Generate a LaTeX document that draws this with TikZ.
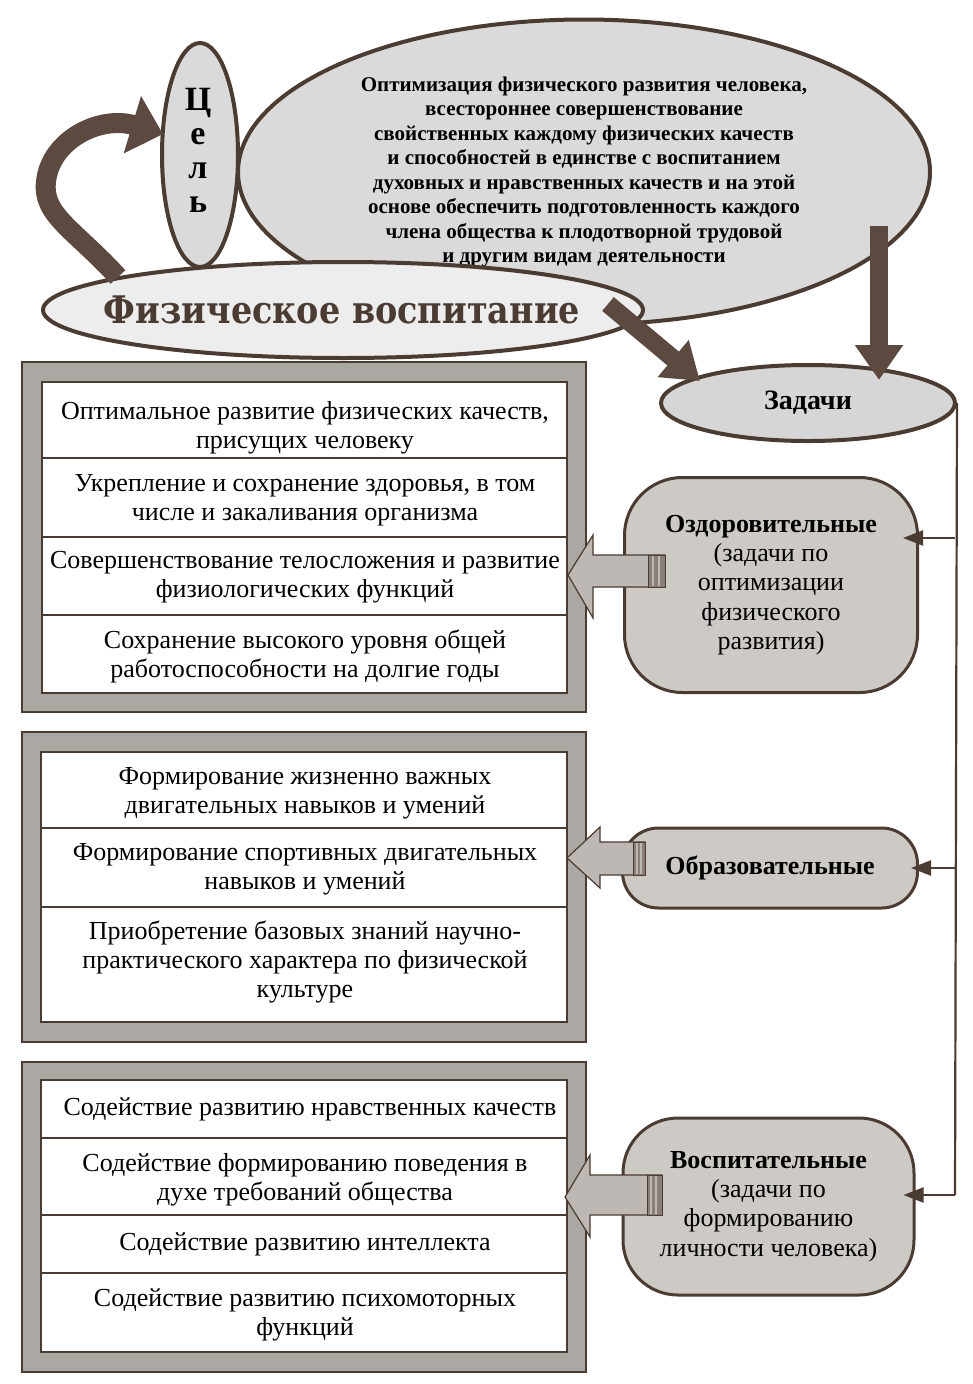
\documentclass[tikz,border=0pt]{standalone}
\usepackage{fontspec}
\setmainfont{Liberation Serif}
\newfontfamily\fvFizFamily{DejaVu Serif}[FakeStretch=0.88]
\usetikzlibrary{shapes.geometric,arrows.meta,calc}
\definecolor{ink}{HTML}{4A3B33}
\definecolor{darkarr}{HTML}{5C4A40}
\definecolor{goalfill}{HTML}{DADADA}
\definecolor{fizfill}{HTML}{EDEDED}
\definecolor{zadfill}{HTML}{D6D6D6}
\definecolor{framefill}{HTML}{ABA7A3}
\definecolor{boxfill}{HTML}{CDCAC6}
\definecolor{sidefill}{HTML}{BDB8B3}
\definecolor{stripe}{HTML}{8A7F78}
\newcommand\fvRow{\fontsize{26}{29}\selectfont}
\newcommand\fvGoal{\bfseries\fontsize{21}{24.5}\selectfont}
\newcommand\fvCel{\bfseries\fontsize{34}{34}\selectfont}
\newcommand\fvZad{\bfseries\fontsize{28}{30}\selectfont}
\newcommand\fvBox{\fontsize{26}{29.3}\selectfont}
\newcommand\fvFiz{\fvFizFamily\bfseries\fontsize{38}{42}\selectfont}
\tikzset{
  ell/.style={ellipse, draw=ink, line width=4pt, inner sep=0pt},
  frameouter/.style={draw=ink, line width=1.2pt, fill=framefill, inner sep=0pt},
  frameinner/.style={draw=ink, line width=1.2pt, fill=white, inner sep=0pt},
  rowline/.style={draw=ink, line width=1.2pt},
  rowtext/.style={font=\fvRow, align=center, text=black, inner sep=0pt},
  rbox/.style={draw=ink, line width=3pt, fill=boxfill, align=center, font=\fvBox, inner sep=0pt},
  darrow/.style={draw=darkarr, line width=18pt, -{Triangle[length=35pt,width=46pt]}},
  sidearrow/.style={draw=ink, line width=1.2pt, fill=sidefill},
  stripebox/.style={draw=ink, line width=1pt, fill=stripe},
  rail/.style={draw=ink, line width=2.2pt},
  railarrow/.style={draw=ink, line width=2.2pt, -{Triangle[length=20pt,width=15pt]}}
}
\begin{document}
\begin{tikzpicture}[x=1pt,y=-1pt]
\useasboundingbox (0,0) rectangle (972,1384);
\fill[white] (0,0) rectangle (972,1384);

% ---- top ellipses ----
\node[ell, fill=goalfill, minimum width=692pt, minimum height=305pt, font=\fvGoal, align=center] (goal) at (584,172)
 {Оптимизация физического развития человека,\\
  всестороннее совершенствование\\
  свойственных каждому физических качеств\\
  и способностей в единстве с воспитанием\\
  духовных и нравственных качеств и на этой\\
  основе обеспечить подготовленность каждого\\
  члена общества к плодотворной трудовой\\
  и другим видам деятельности};
\node[ell, fill=goalfill, minimum width=76pt, minimum height=224pt] (cel) at (200,155) {};
\node[font=\fvCel, align=center, inner sep=0pt] (celtxt) at (198,150) {Ц\\е\\л\\ь};
\node[ell, fill=fizfill, minimum width=600pt, minimum height=96pt] (fiz) at (343,310) {};
\node[font=\fvFiz, text=ink, inner sep=0pt] (fiztxt) at (342,310) {Физическое воспитание};
\node[ell, fill=zadfill, minimum width=294pt, minimum height=76pt, font=\fvZad] (zad) at (808,403) {Задачи};

% ---- dark arrows ----
\coordinate (g1) at (879,226);
\coordinate (z1) at (879,380);
\draw[darrow] (g1) -- (z1);
\coordinate (f1) at (608,304);
\coordinate (z2) at (700,381);
\draw[darrow] (f1) -- (z2);
\coordinate (c0) at (118,277);
\coordinate (cm) at (46,182);
\coordinate (c1) at (163,134);
\draw[draw=darkarr, line width=20pt, -{Triangle[length=32pt,width=58pt]}]
  (c0) .. controls (75,230) and (42,215) .. (cm) .. controls (50,140) and (100,115) .. (c1);

% ---- frames ----
\node[frameouter, minimum width=564pt, minimum height=350pt] (o1) at (304,537) {};
\node[frameinner, minimum width=525pt, minimum height=311pt] (i1) at (304.5,537.5) {};
\draw[rowline] (i1.west |- 0,458) -- (i1.east |- 0,458);
\draw[rowline] (i1.west |- 0,537) -- (i1.east |- 0,537);
\draw[rowline] (i1.west |- 0,615) -- (i1.east |- 0,615);
\node[rowtext] (t11) at (305,428) {Оптимальное развитие физических качеств,\\присущих человеку};
\node[rowtext] (t12) at (305,500) {Укрепление и сохранение здоровья, в том\\числе и закаливания организма};
\node[rowtext] (t13) at (305,577) {Совершенствование телосложения и развитие\\физиологических функций};
\node[rowtext] (t14) at (305,656) {Сохранение высокого уровня общей\\работоспособности на долгие годы};

\node[frameouter, minimum width=564pt, minimum height=310pt] (o2) at (304,887) {};
\node[frameinner, minimum width=526pt, minimum height=270pt] (i2) at (304,887) {};
\draw[rowline] (i2.west |- 0,828) -- (i2.east |- 0,828);
\draw[rowline] (i2.west |- 0,907) -- (i2.east |- 0,907);
\node[rowtext] (t21) at (305,793) {Формирование жизненно важных\\двигательных навыков и умений};
\node[rowtext] (t22) at (305,869) {Формирование спортивных двигательных\\навыков и умений};
\node[rowtext] (t23) at (305,962) {Приобретение базовых знаний научно-\\практического характера по физической\\культуре};

\node[frameouter, minimum width=564pt, minimum height=310pt] (o3) at (304,1217) {};
\node[frameinner, minimum width=526pt, minimum height=272pt] (i3) at (304,1216) {};
\draw[rowline] (i3.west |- 0,1138) -- (i3.east |- 0,1138);
\draw[rowline] (i3.west |- 0,1215) -- (i3.east |- 0,1215);
\draw[rowline] (i3.west |- 0,1273) -- (i3.east |- 0,1273);
\node[rowtext] (t31) at (310,1109) {Содействие развитию нравственных качеств};
\node[rowtext] (t32) at (305,1180) {Содействие формированию поведения в\\духе требований общества};
\node[rowtext] (t33) at (305,1244) {Содействие развитию интеллекта};
\node[rowtext] (t34) at (305,1315) {Содействие развитию психомоторных\\функций};

% ---- rounded task boxes ----
\node[rbox, rounded corners=58pt, minimum width=293pt, minimum height=215pt] (ozd) at (771,585)
 {\textbf{Оздоровительные}\\(задачи по\\оптимизации\\физического\\развития)};
\node[rbox, rounded corners=36pt, minimum width=295pt, minimum height=80pt] (obr) at (770,868)
 {\textbf{Образовательные}};
\node[rbox, rounded corners=55pt, minimum width=291pt, minimum height=177pt] (vos) at (768.5,1206.5)
 {\textbf{Воспитательные}\\(задачи по\\формированию\\личности человека)};

% ---- side block arrows ----
\filldraw[sidearrow] (568,575) -- (593,535) -- (593,555) -- (665,555) -- (665,587) -- (593,587) -- (593,618) -- cycle;
\filldraw[stripebox] (648,555) rectangle (665,587);
\draw[draw=sidefill, line width=1.5pt] (653,556) -- (653,586) (659,556) -- (659,586);

\filldraw[sidearrow] (567,858) -- (600,827) -- (600,842) -- (645,842) -- (645,875) -- (600,875) -- (600,888) -- cycle;
\filldraw[stripebox] (633,842) rectangle (645,875);
\draw[draw=sidefill, line width=1.5pt] (637,843) -- (637,874) (641,843) -- (641,874);

\filldraw[sidearrow] (565,1197) -- (590,1155) -- (590,1175) -- (662,1175) -- (662,1215) -- (590,1215) -- (590,1237) -- cycle;
\filldraw[stripebox] (647,1175) rectangle (662,1215);
\draw[draw=sidefill, line width=1.5pt] (651,1176) -- (651,1214) (656,1176) -- (656,1214);

% ---- right rail ----
\coordinate (r1) at (955,538);
\coordinate (r2) at (955,868);
\coordinate (r3) at (955,1195);
\draw[rail] (zad.east) -- (r3);
\draw[railarrow, shorten >=-16pt] (r1) -- (r1 -| ozd.east);
\draw[railarrow, shorten >=-8pt] (r2) -- (obr.east);
\draw[railarrow, shorten >=-12pt] (r3) -- (r3 -| vos.east);
\end{tikzpicture}
\end{document}
